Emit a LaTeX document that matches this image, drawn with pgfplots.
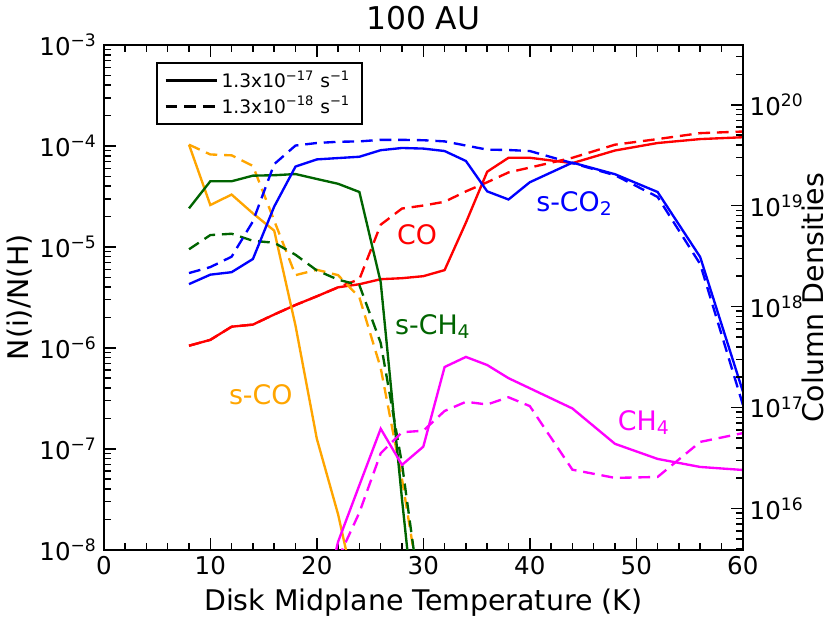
\documentclass[border=0pt]{standalone}
\usepackage{fontspec}
\setmainfont{DejaVu Sans}
\usepackage{pgfplots}
\pgfplotsset{compat=1.18}
\definecolor{mplorange}{HTML}{FFA500}
\definecolor{mplgreen}{HTML}{006400}
\definecolor{mplmagenta}{HTML}{FF00FF}
\definecolor{mplblue}{HTML}{0000FF}
\definecolor{mplred}{HTML}{FF0000}

\newcommand{\tickfont}{\fontsize{12.5}{15}\selectfont}
\newcommand{\labfont}{\fontsize{14.5}{17}\selectfont}
\newcommand{\curvefont}{\fontsize{13.7}{16}\selectfont}
\newcommand{\smallfont}{\fontsize{9.5}{11}\selectfont}

\pgfplotsset{
  sol/.style={line width=1.2pt},
  das/.style={line width=1.2pt, dash pattern=on 6pt off 3.5pt},
}

\begin{document}
\begin{tikzpicture}
\begin{axis}[
  scale only axis, width=326pt, height=257.5pt,
  xmin=0, xmax=60,
  ymode=log, log basis y=10,
  tick align=inside,
  major tick length=6pt, minor tick length=3.5pt,
  every tick/.style={black, line width=0.8pt},
  axis line style={line width=1pt},
  ticklabel style={font=\tickfont},
  label style={font=\labfont},
  ymin=1e-8, ymax=1e-3,
  xtick={0,10,20,30,40,50,60},
  xticklabels={0,10,20,30,40,50,60},
  minor x tick num=4,
  ytick={1e-8,1e-7,1e-6,1e-5,1e-4,1e-3},
  minor ytick={2e-8,3e-8,4e-8,5e-8,6e-8,7e-8,8e-8,9e-8,
    2e-7,3e-7,4e-7,5e-7,6e-7,7e-7,8e-7,9e-7,
    2e-6,3e-6,4e-6,5e-6,6e-6,7e-6,8e-6,9e-6,
    2e-5,3e-5,4e-5,5e-5,6e-5,7e-5,8e-5,9e-5,
    2e-4,3e-4,4e-4,5e-4,6e-4,7e-4,8e-4,9e-4},
  yticklabels={10\textsuperscript{−8},10\textsuperscript{−7},10\textsuperscript{−6},10\textsuperscript{−5},10\textsuperscript{−4},10\textsuperscript{−3}},
  xtick pos=both, ytick pos=left,
  title={100 AU}, title style={font=\fontsize{16}{19}\selectfont, yshift=-2pt},
  xlabel={Disk Midplane Temperature (K)},
  ylabel={N(i)/N(H)},
  ylabel shift=-3pt,
  legend style={at={(0.081,0.967)}, anchor=north west, draw=black, line width=1pt,
    font=\smallfont, inner xsep=4pt, inner ysep=2pt, row sep=-1pt},
  legend cell align=left,
  legend image code/.code={\draw[#1] (0pt,0pt) -- (26pt,0pt);},
]
\addlegendimage{black, sol}
\addlegendentry{1.3x10\textsuperscript{−17} s\textsuperscript{−1}}
\addlegendimage{black, das}
\addlegendentry{1.3x10\textsuperscript{−18} s\textsuperscript{−1}}

% CO
\addplot[mplred, sol, forget plot] coordinates {
(8,1.05e-6) (10,1.20e-6) (12,1.62e-6) (14,1.70e-6) (16,2.14e-6) (18,2.66e-6)
(20,3.24e-6) (22,3.98e-6) (24,4.27e-6) (26,4.79e-6) (28,4.90e-6) (30,5.13e-6)
(32,5.89e-6) (34,1.74e-5) (36,5.56e-5) (38,7.64e-5) (40,7.64e-5) (44,6.76e-5)
(48,9.02e-5) (52,1.07e-4) (56,1.17e-4) (60,1.22e-4)};
\addplot[mplred, das, forget plot] coordinates {
(8,1.05e-6) (10,1.20e-6) (12,1.62e-6) (14,1.70e-6) (16,2.14e-6) (18,2.66e-6)
(20,3.24e-6) (22,3.98e-6) (24,4.79e-6) (26,1.66e-5) (28,2.40e-5) (30,2.57e-5)
(32,2.80e-5) (34,3.55e-5) (36,4.37e-5) (38,5.47e-5) (40,6.11e-5) (44,7.64e-5)
(48,1.03e-4) (52,1.17e-4) (56,1.34e-4) (60,1.39e-4)};

% s-CO
\addplot[mplorange, sol, forget plot] coordinates {
(8,1.03e-4) (10,2.60e-5) (12,3.30e-5) (14,2.15e-5) (16,1.45e-5) (18,1.66e-6)
(20,1.26e-7) (22,2.24e-8) (24,2.5e-9)};
\addplot[mplorange, das, forget plot] coordinates {
(8,1.03e-4) (10,8.24e-5) (12,8.07e-5) (14,6.35e-5) (16,1.82e-5) (18,5.25e-6)
(20,5.94e-6) (22,5.25e-6) (24,3.16e-6) (26,6.31e-7) (28,5.01e-8) (30,2.5e-9)};

% s-CH4
\addplot[mplgreen, sol, forget plot] coordinates {
(8,2.41e-5) (10,4.47e-5) (12,4.47e-5) (14,5.08e-5) (16,5.13e-5) (18,5.27e-5)
(20,4.71e-5) (22,4.22e-5) (24,3.50e-5) (26,4.47e-6) (28,3.16e-8) (30,3.16e-10)};
\addplot[mplgreen, das, forget plot] coordinates {
(8,9.48e-6) (10,1.31e-5) (12,1.35e-5) (14,1.15e-5) (16,1.10e-5) (18,8.36e-6)
(20,5.85e-6) (22,4.74e-6) (24,4.17e-6) (26,1.12e-6) (28,7.08e-8) (30,2.0e-9)};

% CH4
\addplot[mplmagenta, sol, forget plot] coordinates {
(20,1.58e-9) (22,1.20e-8) (24,4.37e-8) (26,1.58e-7) (28,6.93e-8) (30,1.05e-7)
(32,6.46e-7) (34,8.13e-7) (36,6.76e-7) (38,5.01e-7) (40,3.98e-7) (44,2.51e-7)
(48,1.12e-7) (52,7.94e-8) (56,6.61e-8) (60,6.17e-8)};
\addplot[mplmagenta, das, forget plot] coordinates {
(20,1.58e-9) (22,8.13e-9) (24,2.34e-8) (26,9.02e-8) (28,1.46e-7) (30,1.51e-7)
(32,2.37e-7) (34,2.92e-7) (36,2.75e-7) (38,3.24e-7) (40,2.65e-7) (44,6.21e-8)
(48,5.15e-8) (52,5.26e-8) (56,1.17e-7) (60,1.43e-7)};

% s-CO2
\addplot[mplblue, sol, forget plot] coordinates {
(8,4.28e-6) (10,5.31e-6) (12,5.62e-6) (14,7.59e-6) (16,2.51e-5) (18,6.25e-5)
(20,7.36e-5) (22,7.59e-5) (24,7.82e-5) (26,9.08e-5) (28,9.55e-5) (30,9.42e-5)
(32,8.91e-5) (34,7.10e-5) (36,3.55e-5) (38,2.95e-5) (40,4.37e-5) (44,6.84e-5)
(48,5.25e-5) (52,3.50e-5) (56,7.94e-6) (60,3.72e-7)};
\addplot[mplblue, das, forget plot] coordinates {
(8,5.51e-6) (10,6.31e-6) (12,8.00e-6) (14,1.79e-5) (16,6.61e-5) (18,1.01e-4)
(20,1.07e-4) (22,1.10e-4) (24,1.11e-4) (26,1.15e-4) (28,1.15e-4) (30,1.14e-4)
(32,1.11e-4) (34,1.01e-4) (36,9.20e-5) (38,9.12e-5) (40,8.91e-5) (44,6.76e-5)
(48,5.13e-5) (52,3.13e-5) (56,6.76e-6) (60,2.75e-7)};

\node[text=mplorange, font=\curvefont] at (axis cs:14.74,3.44e-7) {s-CO};
\node[text=mplred, font=\curvefont] at (axis cs:29.42,1.31e-5) {CO};
\node[text=mplgreen, font=\curvefont] at (axis cs:30.9,1.64e-6) {s-CH\textsubscript{4}};
\node[text=mplblue, font=\curvefont] at (axis cs:44.2,2.69e-5) {s-CO\textsubscript{2}};
\node[text=mplmagenta, font=\curvefont] at (axis cs:50.7,1.82e-7) {CH\textsubscript{4}};
\end{axis}

\begin{axis}[
  scale only axis, width=326pt, height=257.5pt,
  xmin=0, xmax=60,
  ymode=log, log basis y=10,
  ymin=3.91e15, ymax=3.91e20,
  axis x line=none, axis y line*=right,
  tick align=inside,
  major tick length=6pt, minor tick length=3.5pt,
  every tick/.style={black, line width=0.8pt},
  axis line style={line width=1pt},
  ticklabel style={font=\tickfont},
  label style={font=\labfont},
  ytick={1e16,1e17,1e18,1e19,1e20},
  minor ytick={4e15,5e15,6e15,7e15,8e15,9e15,
    2e16,3e16,4e16,5e16,6e16,7e16,8e16,9e16,
    2e17,3e17,4e17,5e17,6e17,7e17,8e17,9e17,
    2e18,3e18,4e18,5e18,6e18,7e18,8e18,9e18,
    2e19,3e19,4e19,5e19,6e19,7e19,8e19,9e19,
    2e20,3e20},
  yticklabels={10\textsuperscript{16},10\textsuperscript{17},10\textsuperscript{18},10\textsuperscript{19},10\textsuperscript{20}},
  ylabel={Column Densities},
  ylabel shift=-8pt,
]
\addplot[draw=none] coordinates {(30,1e17) (30,1e18)};
\end{axis}
\end{tikzpicture}
\end{document}
